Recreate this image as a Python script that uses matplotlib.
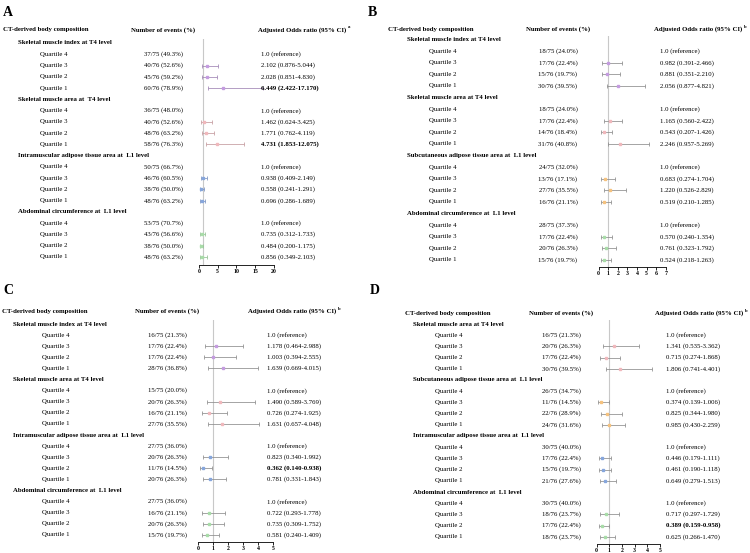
import matplotlib
matplotlib.use("Agg")
from matplotlib import pyplot as plt

plt.rcParams['font.family'] = ['Liberation Serif', 'DejaVu Serif']

W, H = 750, 553

# ---------------- data ----------------
quartiles = ["Quartile 4", "Quartile 3", "Quartile 2", "Quartile 1"]

a_groups = ["Skeletal muscle index at T4 level", "Skeletal muscle area at  T4 level",
            "Intramuscular adipose tissue area at  L1 level", "Abdominal circumference at  L1 level"]
a_events = [["37/75 (49.3%)", "40/76 (52.6%)", "45/76 (59.2%)", "60/76 (78.9%)"],
            ["36/75 (48.0%)", "40/76 (52.6%)", "48/76 (63.2%)", "58/76 (76.3%)"],
            ["50/75 (66.7%)", "46/76 (60.5%)", "38/76 (50.0%)", "48/76 (63.2%)"],
            ["53/75 (70.7%)", "43/76 (56.6%)", "38/76 (50.0%)", "48/76 (63.2%)"]]
a_or = [[2.102, 2.028, 6.449], [1.462, 1.771, 4.731], [0.938, 0.558, 0.696], [0.735, 0.484, 0.856]]
a_lo = [[0.876, 0.851, 2.422], [0.624, 0.762, 1.853], [0.409, 0.241, 0.286], [0.312, 0.200, 0.349]]
a_hi = [[5.044, 4.830, 17.170], [3.425, 4.119, 12.075], [2.149, 1.291, 1.689], [1.733, 1.175, 2.103]]

b_groups = ["Skeletal muscle index at T4 level", "Skeletal muscle area at T4 level",
            "Subcutaneous adipose tissue area at  L1 level", "Abdominal circumference at  L1 level"]
b_events = [["18/75 (24.0%)", "17/76 (22.4%)", "15/76 (19.7%)", "30/76 (39.5%)"],
            ["18/75 (24.0%)", "17/76 (22.4%)", "14/76 (18.4%)", "31/76 (40.8%)"],
            ["24/75 (32.0%)", "13/76 (17.1%)", "27/76 (35.5%)", "16/76 (21.1%)"],
            ["28/75 (37.3%)", "17/76 (22.4%)", "20/76 (26.3%)", "15/76 (19.7%)"]]
b_or = [[0.982, 0.881, 2.056], [1.165, 0.543, 2.246], [0.683, 1.220, 0.519], [0.570, 0.761, 0.524]]
b_lo = [[0.391, 0.351, 0.877], [0.560, 0.207, 0.957], [0.274, 0.526, 0.210], [0.240, 0.323, 0.218]]
b_hi = [[2.466, 2.210, 4.821], [2.422, 1.426, 5.269], [1.704, 2.829, 1.285], [1.354, 1.792, 1.263]]

c_groups = ["Skeletal muscle index at T4 level", "Skeletal muscle area at T4 level",
            "Intramuscular adipose tissue area at  L1 level", "Abdominal circumference at  L1 level"]
c_events = [["16/75 (21.3%)", "17/76 (22.4%)", "17/76 (22.4%)", "28/76 (36.8%)"],
            ["15/75 (20.0%)", "20/76 (26.3%)", "16/76 (21.1%)", "27/76 (35.5%)"],
            ["27/75 (36.0%)", "20/76 (26.3%)", "11/76 (14.5%)", "20/76 (26.3%)"],
            ["27/75 (36.0%)", "16/76 (21.1%)", "20/76 (26.3%)", "15/76 (19.7%)"]]
c_or = [[1.178, 1.003, 1.639], [1.490, 0.726, 1.631], [0.823, 0.362, 0.781], [0.722, 0.735, 0.581]]
c_lo = [[0.464, 0.394, 0.669], [0.589, 0.274, 0.657], [0.340, 0.140, 0.331], [0.293, 0.309, 0.240]]
c_hi = [[2.988, 2.555, 4.015], [3.769, 1.925, 4.048], [1.992, 0.938, 1.843], [1.778, 1.752, 1.409]]

d_groups = ["Skeletal muscle area at T4 level", "Subcutaneous adipose tissue area at  L1 level",
            "Intramuscular adipose tissue area at  L1 level", "Abdominal circumference at  L1 level"]
d_events = [["16/75 (21.3%)", "20/76 (26.3%)", "17/76 (22.4%)", "30/76 (39.5%)"],
            ["26/75 (34.7%)", "11/76 (14.5%)", "22/76 (28.9%)", "24/76 (31.6%)"],
            ["30/75 (40.0%)", "17/76 (22.4%)", "15/76 (19.7%)", "21/76 (27.6%)"],
            ["30/75 (40.0%)", "18/76 (23.7%)", "17/76 (22.4%)", "18/76 (23.7%)"]]
d_or = [[1.341, 0.715, 1.806], [0.374, 0.825, 0.985], [0.446, 0.461, 0.649], [0.717, 0.389, 0.625]]
d_lo = [[0.535, 0.274, 0.741], [0.139, 0.344, 0.430], [0.179, 0.190, 0.279], [0.297, 0.159, 0.266]]
d_hi = [[3.362, 1.868, 4.401], [1.006, 1.980, 2.259], [1.111, 1.118, 1.513], [1.729, 0.958, 1.470]]

# ---------------- styles ----------------
marker_col = {"Skeletal muscle index": "#c49be0", "Skeletal muscle area": "#f0b8bc",
              "Intramuscular": "#86a6dc", "Abdominal": "#a8dca8", "Subcutaneous": "#f5c27e"}
whisker_col = {"Skeletal muscle index": "#9f84b4", "Skeletal muscle area": "#c49a9e",
               "Intramuscular": "#7b92c0", "Abdominal": "#93c093", "Subcutaneous": "#c4a070"}

panels = [
    dict(letter="A", sup="a", groups=a_groups, events=a_events, orv=a_or, lo=a_lo, hi=a_hi,
         lab=(3, 12), head_y=30, name_x=3, grp_x=18, q_x=40, ev_x=163, ci_x=261, ci_hx=258,
         row0=43, step=11.26, ax_x=(199, 274), axis_y=265, xmax=20, tstep=5, grey=False),
    dict(letter="B", sup="b", groups=b_groups, events=b_events, orv=b_or, lo=b_lo, hi=b_hi,
         lab=(368, 12), head_y=29, name_x=388, grp_x=407, q_x=429, ev_x=558, ci_x=660, ci_hx=654,
         row0=39.5, step=11.6, ax_x=(598.7, 665.7), axis_y=267, xmax=7, tstep=1, grey=True),
    dict(letter="C", sup="b", groups=c_groups, events=c_events, orv=c_or, lo=c_lo, hi=c_hi,
         lab=(3, 291), head_y=311, name_x=2, grp_x=13, q_x=42, ev_x=167, ci_x=267, ci_hx=248,
         row0=324, step=11.1, ax_x=(198, 273), axis_y=542, xmax=5, tstep=1, grey=True),
    dict(letter="D", sup="b", groups=d_groups, events=d_events, orv=d_or, lo=d_lo, hi=d_hi,
         lab=(370, 291), head_y=313, name_x=405, grp_x=413, q_x=435, ev_x=561, ci_x=666, ci_hx=655,
         row0=324, step=11.2, ax_x=(596.7, 660), axis_y=544, xmax=5, tstep=1, grey=True),
]

FS = 4.9


def ftext(x, y, s, **kw):
    # x, y in pixels from the top-left corner
    return fig.text(x / W, 1 - y / H, s, va="center", fontsize=kw.pop("fontsize", FS), **kw)


def color_key(name):
    for k in marker_col:
        if name.startswith(k):
            return k
    return "Abdominal"


fig = plt.figure(figsize=(W / 100, H / 100), dpi=100)
renderer = fig.canvas.get_renderer()

for p in panels:
    ftext(p["lab"][0], p["lab"][1], p["letter"], fontsize=10, fontweight="bold")
    ftext(p["name_x"], p["head_y"], "CT-derived body composition", fontweight="bold")
    ftext(p["ev_x"], p["head_y"], "Number of events (%)", fontweight="bold", ha="center")
    head = ftext(p["ci_hx"], p["head_y"], "Adjusted Odds ratio (95% CI)", fontweight="bold")
    # superscript placed just after the header text
    x_end = head.get_window_extent(renderer).x1
    ftext(x_end + 1.5, p["head_y"] - 2.5, p["sup"], fontsize=3.4, fontweight="bold")

    x0, x1 = p["ax_x"]
    top = p["row0"] - 4
    ax = fig.add_axes([x0 / W, 1 - p["axis_y"] / H, (x1 - x0) / W, (p["axis_y"] - top) / H])
    ax.set_xlim(0, p["xmax"])
    ax.set_ylim(p["axis_y"], top)
    ax.patch.set_visible(False)
    for s in ["top", "left", "right"]:
        ax.spines[s].set_visible(False)
    ax.spines["bottom"].set_linewidth(0.6)
    ax.set_yticks([])
    ax.set_xticks(range(0, p["xmax"] + 1, p["tstep"]))
    ax.tick_params(axis="x", length=2, width=0.6, pad=1, labelsize=4.2)
    for t in ax.get_xticklabels():
        t.set_fontweight("bold")
    ax.axvline(1, color="#c8c8c8", lw=0.8, zorder=0)

    r = 0
    for g, name in enumerate(p["groups"]):
        y = p["row0"] + r * p["step"]
        ftext(p["grp_x"], y, name, fontweight="bold")
        r += 1
        key = color_key(name)
        ecol = "#8c8c8c" if p["grey"] else whisker_col[key]
        for q in range(4):
            y = p["row0"] + r * p["step"]
            ftext(p["q_x"], y, quartiles[q])
            ftext(p["ev_x"], y, p["events"][g][q], ha="center")
            if q == 0:
                ftext(p["ci_x"], y, "1.0 (reference)")
            else:
                o, l, h = p["orv"][g][q - 1], p["lo"][g][q - 1], p["hi"][g][q - 1]
                bold = l > 1 or h < 1
                ftext(p["ci_x"], y, "%.3f (%.3f-%.3f)" % (o, l, h),
                      fontweight="bold" if bold else "normal")
                ax.errorbar([o], [y], xerr=[[o - l], [h - o]], fmt="s", ms=1.7,
                            mfc=marker_col[key], mec=marker_col[key], ecolor=ecol,
                            elinewidth=0.55, capsize=1.3, capthick=0.55, zorder=2)
            r += 1

fig.savefig("out.png", dpi=100)
